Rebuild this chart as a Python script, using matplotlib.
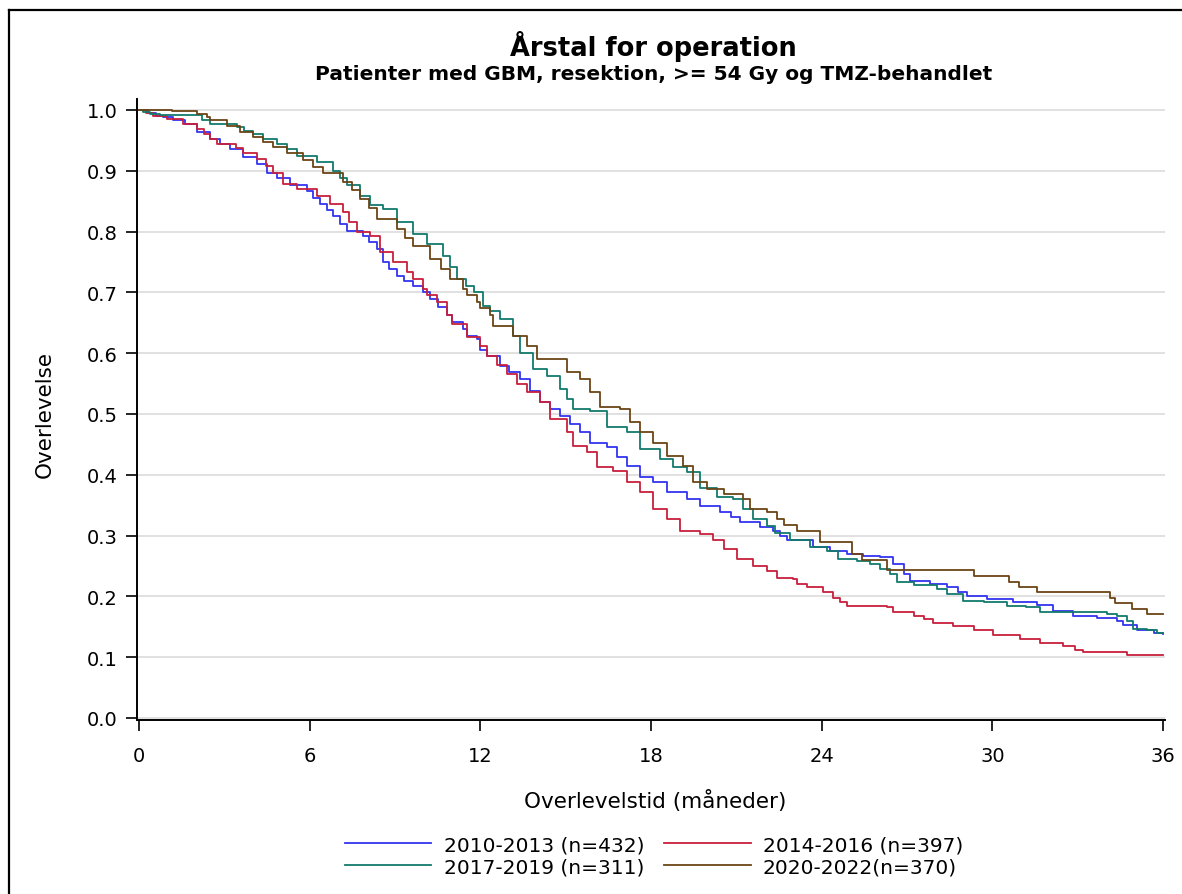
import matplotlib
matplotlib.use("Agg")
import matplotlib.pyplot as plt
from matplotlib.lines import Line2D

# Kaplan-Meier survival by year of operation (months, survival proportion)
labels = ["2010-2013 (n=432)", "2014-2016 (n=397)", "2017-2019 (n=311)", "2020-2022(n=370)"]
colors = ["#3434f0", "#c8203c", "#127a6c", "#6b4416"]

t_2010 = [0, 0.3, 0.6, 0.86, 1.2, 1.6, 2.03, 2.5, 2.85, 3.2, 3.67, 4.14, 4.49, 4.84, 5.31, 5.9,
          6.1, 6.36, 6.6, 6.83, 7.05, 7.3, 7.89, 8.1, 8.36, 8.59, 8.8, 9.06, 9.3, 9.65, 10.0,
          10.23, 10.5, 10.82, 11.0, 11.4, 11.52, 11.87, 12.0, 12.23, 12.69, 13.0, 13.4, 13.75,
          14.1, 14.45, 14.8, 15.15, 15.5, 15.86, 16.44, 16.8, 17.15, 17.62, 18.08, 18.55, 19.26,
          19.73, 20.43, 20.8, 21.13, 21.83, 22.3, 22.54, 22.77, 23.71, 24.3, 24.88, 25.47, 26.05,
          26.52, 26.88, 27.11, 27.81, 28.4, 28.8, 29.1, 29.81, 30.74, 31.56, 32.15, 32.85, 33.67,
          34.38, 34.61, 35.08, 35.7, 36.0]
s_2010 = [1.0, 0.995, 0.99, 0.988, 0.983, 0.977, 0.963, 0.952, 0.944, 0.936, 0.922, 0.911, 0.897,
          0.888, 0.876, 0.867, 0.856, 0.845, 0.835, 0.826, 0.812, 0.801, 0.793, 0.782, 0.771, 0.75,
          0.738, 0.727, 0.719, 0.711, 0.7, 0.689, 0.676, 0.662, 0.651, 0.64, 0.629, 0.623, 0.605,
          0.596, 0.579, 0.569, 0.558, 0.538, 0.519, 0.508, 0.497, 0.484, 0.47, 0.453, 0.445, 0.43,
          0.415, 0.396, 0.388, 0.371, 0.36, 0.349, 0.338, 0.33, 0.322, 0.314, 0.308, 0.3, 0.292,
          0.281, 0.275, 0.27, 0.266, 0.264, 0.253, 0.237, 0.226, 0.22, 0.215, 0.208, 0.201, 0.196,
          0.19, 0.186, 0.176, 0.168, 0.164, 0.16, 0.153, 0.144, 0.14, 0.138]

t_2014 = [0, 0.25, 0.5, 0.97, 1.56, 2.03, 2.3, 2.5, 2.73, 3.4, 3.67, 4.14, 4.45, 4.72, 5.08, 5.54,
          6.25, 6.71, 7.18, 7.4, 7.65, 8.12, 8.47, 8.94, 9.41, 9.65, 10.0, 10.12, 10.47, 10.82,
          11.0, 11.52, 12.0, 12.23, 12.6, 12.93, 13.3, 13.63, 14.1, 14.45, 15.04, 15.27, 15.74,
          16.09, 16.68, 17.15, 17.62, 18.08, 18.55, 19.02, 19.73, 20.19, 20.55, 21.02, 21.6,
          22.07, 22.42, 23.0, 23.12, 23.48, 24.06, 24.41, 24.65, 24.88, 26.28, 26.52, 27.23,
          27.6, 27.93, 28.63, 29.34, 30.04, 30.98, 31.68, 32.5, 32.9, 33.2, 34.73, 36.0]
s_2014 = [1.0, 0.995, 0.99, 0.985, 0.977, 0.969, 0.96, 0.952, 0.944, 0.937, 0.93, 0.919, 0.908,
          0.897, 0.878, 0.87, 0.859, 0.845, 0.832, 0.815, 0.799, 0.793, 0.766, 0.75, 0.733, 0.722,
          0.706, 0.695, 0.684, 0.662, 0.648, 0.626, 0.612, 0.596, 0.58, 0.566, 0.55, 0.536, 0.519,
          0.492, 0.47, 0.448, 0.437, 0.412, 0.407, 0.388, 0.371, 0.344, 0.327, 0.308, 0.303, 0.292,
          0.278, 0.262, 0.25, 0.242, 0.231, 0.228, 0.22, 0.215, 0.207, 0.198, 0.19, 0.185, 0.182,
          0.174, 0.168, 0.162, 0.157, 0.151, 0.144, 0.137, 0.13, 0.123, 0.119, 0.112, 0.108, 0.103,
          0.103]

t_2017 = [0, 0.15, 0.4, 0.75, 2.2, 2.5, 3.43, 3.7, 4.0, 4.37, 4.84, 5.2, 5.54, 6.25, 6.83, 7.05,
          7.3, 7.77, 8.12, 8.59, 9.06, 9.65, 10.12, 10.7, 10.95, 11.17, 11.5, 11.76, 12.11, 12.34,
          12.69, 13.16, 13.4, 13.86, 14.34, 14.8, 15.05, 15.27, 15.86, 16.44, 17.15, 17.62, 18.32,
          18.79, 19.26, 19.73, 20.31, 20.9, 21.25, 21.6, 22.07, 22.35, 22.9, 23.59, 24.18, 24.59,
          25.23, 25.7, 26.05, 26.4, 26.64, 27.23, 28.05, 28.4, 28.98, 29.69, 30.51, 31.2, 31.68,
          34.03, 34.38, 34.73, 34.96, 35.43, 35.8, 36.0]
s_2017 = [1.0, 0.996, 0.993, 0.991, 0.983, 0.977, 0.972, 0.966, 0.96, 0.953, 0.944, 0.935, 0.925,
          0.914, 0.9, 0.888, 0.876, 0.859, 0.843, 0.837, 0.815, 0.796, 0.78, 0.76, 0.742, 0.722,
          0.711, 0.7, 0.678, 0.67, 0.656, 0.629, 0.601, 0.574, 0.563, 0.541, 0.525, 0.508, 0.505,
          0.478, 0.47, 0.442, 0.426, 0.412, 0.404, 0.379, 0.363, 0.36, 0.344, 0.327, 0.316, 0.305,
          0.292, 0.281, 0.275, 0.262, 0.259, 0.253, 0.245, 0.237, 0.223, 0.218, 0.212, 0.204,
          0.193, 0.19, 0.185, 0.182, 0.174, 0.171, 0.168, 0.16, 0.146, 0.144, 0.14, 0.14]

t_2020 = [0, 1.15, 2.03, 2.38, 2.5, 3.08, 3.55, 4.0, 4.37, 4.72, 5.19, 5.78, 6.1, 6.48, 7.18, 7.5,
          7.77, 8.1, 8.36, 9.06, 9.35, 9.65, 10.23, 10.6, 10.94, 11.4, 11.52, 11.87, 12.0, 12.34,
          12.46, 13.16, 13.63, 13.98, 15.04, 15.5, 15.86, 16.21, 16.91, 17.26, 17.62, 18.08,
          18.55, 19.14, 19.49, 19.96, 20.55, 21.25, 21.48, 22.07, 22.42, 22.66, 23.12, 23.94,
          25.06, 25.41, 26.28, 29.34, 30.6, 30.92, 31.56, 34.14, 34.32, 34.9, 35.43, 36.0]
s_2020 = [1.0, 0.998, 0.994, 0.988, 0.983, 0.974, 0.963, 0.955, 0.947, 0.939, 0.93, 0.917, 0.906,
          0.897, 0.881, 0.868, 0.854, 0.838, 0.821, 0.804, 0.79, 0.777, 0.755, 0.738, 0.722, 0.706,
          0.695, 0.684, 0.675, 0.662, 0.645, 0.629, 0.612, 0.59, 0.569, 0.558, 0.536, 0.511, 0.508,
          0.486, 0.47, 0.453, 0.431, 0.415, 0.388, 0.377, 0.368, 0.36, 0.344, 0.338, 0.327, 0.317,
          0.308, 0.289, 0.27, 0.26, 0.243, 0.233, 0.224, 0.215, 0.207, 0.198, 0.189, 0.18, 0.171,
          0.171]

series = [(t_2010, s_2010), (t_2014, s_2014), (t_2017, s_2017), (t_2020, s_2020)]

x_ticks = [0, 6, 12, 18, 24, 30, 36]
y_ticks = [0.0, 0.1, 0.2, 0.3, 0.4, 0.5, 0.6, 0.7, 0.8, 0.9, 1.0]

plt.rcParams["font.family"] = "DejaVu Sans"

W, H = 1182, 895
fig = plt.figure(figsize=(W / 100, H / 100), dpi=100)
ax = fig.add_axes([137 / W, 1 - 721 / H, (1165 - 137) / W, (721 - 100) / H])

handles = []
for (t, s), lab, c in zip(series, labels, colors):
    h, = ax.step(t, s, where="post", color=c, lw=1.3, label=lab)
    handles.append(h)

ax.set_xlim(-0.07, 36.07)
ax.set_ylim(-0.0033, 1.018)
ax.set_xticks(x_ticks)
ax.set_yticks(y_ticks)
ax.set_yticklabels([f"{v:.1f}" for v in y_ticks])
ax.yaxis.grid(True, color="#dcdcdc", lw=1.2)
ax.set_axisbelow(True)
for side in ("top", "right"):
    ax.spines[side].set_visible(False)
for side in ("left", "bottom"):
    ax.spines[side].set_linewidth(1.4)
ax.tick_params(axis="both", direction="out", length=8, width=1.2, labelsize=14, pad=6)
ax.tick_params(axis="x", pad=11)

ax.set_xlabel("Overlevelstid (måneder)", fontsize=15.5)
ax.set_ylabel("Overlevelse", fontsize=15.5)
ax.xaxis.set_label_coords(0.504, -0.111)
ax.yaxis.set_label_coords(-0.0798, 0.493)

fig.text(653 / W, 1 - 46 / H, "Årstal for operation", ha="center", va="center",
         fontsize=18.5, fontweight="bold")
fig.text(654 / W, 1 - 75 / H, "Patienter med GBM, resektion, >= 54 Gy og TMZ-behandlet",
         ha="center", va="center", fontsize=14.5, fontweight="bold")

# row-wise legend order: 2010 | 2014 / 2017 | 2020
order = [0, 2, 1, 3]
fig.legend([handles[i] for i in order], [labels[i] for i in order],
           loc="center", bbox_to_anchor=(654 / W, 1 - 857 / H), ncol=2, frameon=False,
           fontsize=14.5, handlelength=4.3, handletextpad=0.6, columnspacing=1.0,
           labelspacing=0.15)

# outer frame (left and top edges)
fig.add_artist(Line2D([9 / W, 9 / W], [0, 1 - 11 / H], color="black", lw=1.6,
                      transform=fig.transFigure))
fig.add_artist(Line2D([9 / W, 1], [1 - 11 / H, 1 - 11 / H], color="black", lw=1.6,
                      transform=fig.transFigure))

fig.savefig("out.png", dpi=100)
